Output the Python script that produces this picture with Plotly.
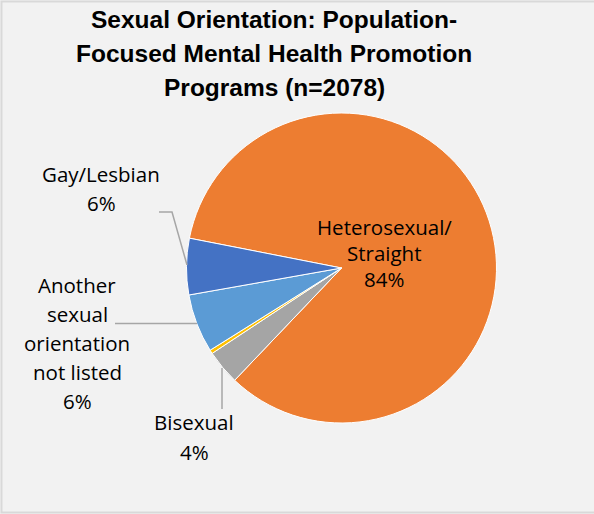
import plotly.graph_objects as go

# ---- data ----
categories = ["Heterosexual/Straight", "Bisexual", "Prefer not to answer",
              "Another sexual orientation not listed", "Gay/Lesbian"]
counts = [1746, 75, 8, 127, 122]
colors = ["#ED7D31", "#A5A5A5", "#FFC000", "#5B9BD5", "#4472C4"]
label_lines = [["Heterosexual/", "Straight"], ["Bisexual"], None,
               ["Another", "sexual", "orientation", "not listed"], ["Gay/Lesbian"]]
title_lines = ["Sexual Orientation: Population-",
               "Focused Mental Health Promotion",
               "Programs (n=2078)"]

W, H = 594, 514
total = sum(counts)
pcts = [c / total * 100 for c in counts]

fig = go.Figure()
fig.add_trace(go.Pie(
    labels=categories, values=counts, sort=False, direction="clockwise",
    rotation=-78.9, marker=dict(colors=colors, line=dict(color="white", width=1)),
    textinfo="none", hoverinfo="label+percent", showlegend=False,
    domain=dict(x=[186.5 / W, 496.5 / W], y=[1 - 423 / H, 1 - 113 / H]),
))

def px(x): return x / W
def py(y): return 1 - y / H

annotations = []

# title lines: (center x, baseline y)
title_font = dict(family="Liberation Sans, Arial, sans-serif", size=24.5, color="#000000",
                  weight="bold")
for i, t in enumerate(title_lines):
    annotations.append(dict(text=t, x=px(274), y=py(29 + i * 34), xref="paper", yref="paper",
                            xanchor="center", yanchor="bottom", yshift=-6,
                            showarrow=False, font=title_font))

# label layout: (center x, first baseline y, line spacing)
label_pos = [(384, 237, 26), (194, 432, 30), None, (77, 295, 29.2), (101, 184, 29)]
label_font = dict(family="Open Sans, sans-serif", size=20.5, color="#000000")
for lines, pct, pos in zip(label_lines, pcts, label_pos):
    if lines is None:
        continue
    cx, by, sp = pos
    all_lines = lines + [f"{round(pct)}%"]
    for i, t in enumerate(all_lines):
        annotations.append(dict(text=t, x=px(cx), y=py(by + i * sp), xref="paper", yref="paper",
                                xanchor="center", yanchor="bottom", yshift=-5.5,
                                showarrow=False, font=label_font))

# leader lines
leader = "#A6A6A6"
shapes = [
    dict(type="path", path=f"M {px(159)},{py(212)} L {px(172)},{py(212)} L {px(187)},{py(265)}",
         xref="paper", yref="paper", line=dict(color=leader, width=1.5)),
    dict(type="line", x0=px(115), y0=py(323.5), x1=px(197), y1=py(323.5),
         xref="paper", yref="paper", line=dict(color=leader, width=1.5)),
    dict(type="line", x0=px(222), y0=py(368), x1=px(222), y1=py(409),
         xref="paper", yref="paper", line=dict(color=leader, width=1.5)),
    dict(type="rect", x0=px(1.5), y0=py(512.5), x1=px(W + 5), y1=py(1.5),
         xref="paper", yref="paper", line=dict(color="#D9D9D9", width=2), layer="below"),
]

fig.update_layout(
    width=W, height=H,
    margin=dict(l=0, r=0, t=0, b=0),
    paper_bgcolor="#F2F2F2", plot_bgcolor="#F2F2F2",
    annotations=annotations, shapes=shapes,
)

fig.write_html("out.html", config={"displayModeBar": False},
               post_script="document.body.style.margin='0';document.body.style.overflow='hidden';")
